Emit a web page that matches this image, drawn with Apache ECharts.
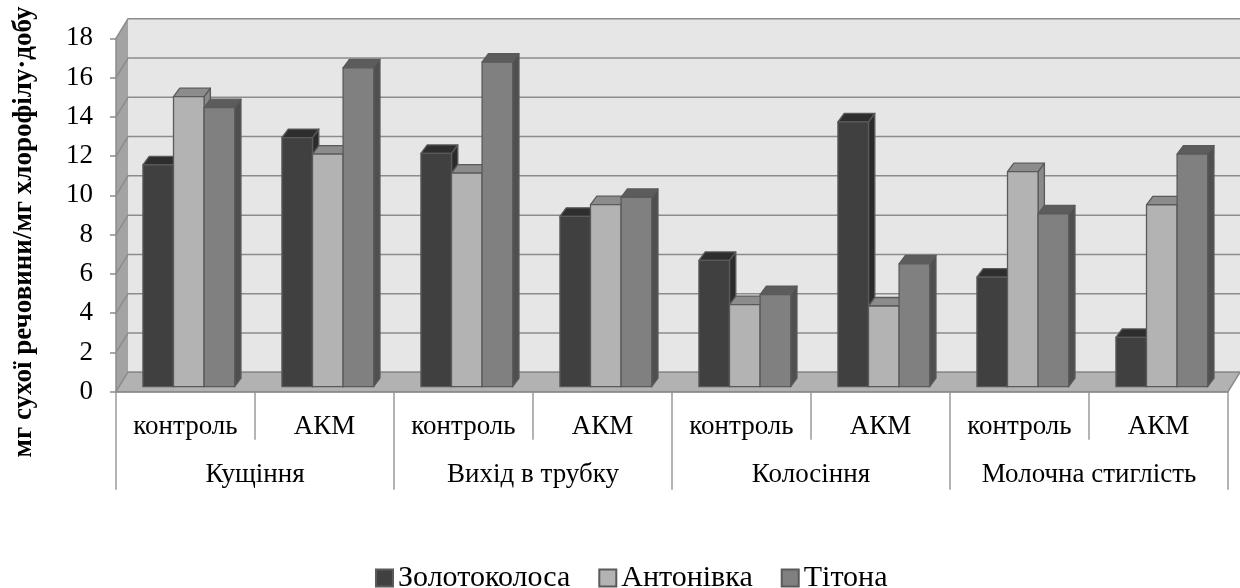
<!DOCTYPE html>
<html>
<head>
<meta charset="utf-8">
<script src="https://cdn.jsdelivr.net/npm/echarts@6/dist/echarts.min.js"></script>
<style>
  html, body { margin: 0; padding: 0; background: #ffffff; }
  #chart { width: 1240px; height: 588px; }
</style>
</head>
<body>
<div id="chart"></div>
<script>
// Treatments (inner level) and growth stages (outer level) of the category axis
const treatments = ['контроль', 'АКМ', 'контроль', 'АКМ', 'контроль', 'АКМ', 'контроль', 'АКМ'];
const stages = ['Кущіння', 'Вихід в трубку', 'Колосіння', 'Молочна стиглість'];

// Varieties and their values, mg dry matter / mg chlorophyll per day
const seriesNames = ['Золотоколоса', 'Антонівка', 'Тітона'];
const zolotokolosa = [11.30, 12.69, 11.88, 8.68, 6.43, 13.49, 5.58, 2.51];
const antonivka = [14.77, 11.85, 10.88, 9.27, 4.18, 4.11, 10.95, 9.26];
const titona = [14.21, 16.24, 16.53, 9.64, 4.69, 6.26, 8.80, 11.85];

// Value axis ticks
const yTicks = [0, 2, 4, 6, 8, 10, 12, 14, 16, 18];

const yTitle = 'мг сухої речовини/мг хлорофілу·добу';
const FONT = '"Liberation Serif", "Times New Roman", serif';

// Oblique "3D" projection: wall depth, bar plane offset and bar depth
const WALL_DX = 12, WALL_DY = -19.5;
const PLANE_DX = 3.3, PLANE_DY = -5.0;
const BAR_DX = 6.3, BAR_DY = -8.5;
const BAR_FRAC = 0.22;

// Face colours per variety: front, top, side
const palette = [
  { front: '#404040', top: '#2e2e2e', side: '#2b2b2b' },
  { front: '#b3b3b3', top: '#8c8c8c', side: '#8a8a8a' },
  { front: '#808080', top: '#5c5c5c', side: '#4f4f4f' }
];
const EDGE = '#5a5a5a';

// Back wall, side wall and floor of the plot box
function renderWalls(params, api) {
  const cs = params.coordSys;
  const x0 = cs.x, x1 = cs.x + cs.width;
  const yTop = api.coord([0, yTicks[yTicks.length - 1]])[1];
  const yBase = api.coord([0, 0])[1];
  const children = [];
  // back wall
  children.push({
    type: 'rect',
    shape: { x: x0 + WALL_DX, y: yTop + WALL_DY, width: x1 - x0, height: yBase - yTop },
    style: { fill: '#e6e6e6', stroke: null }
  });
  // side wall
  children.push({
    type: 'polygon',
    shape: { points: [[x0, yTop], [x0 + WALL_DX, yTop + WALL_DY], [x0 + WALL_DX, yBase + WALL_DY], [x0, yBase]] },
    style: { fill: '#a3a3a3', stroke: null }
  });
  // gridlines on both walls
  yTicks.forEach(function (t) {
    const y = api.coord([0, t])[1];
    children.push({
      type: 'polyline',
      shape: { points: [[x0, y], [x0 + WALL_DX, y + WALL_DY], [x1 + WALL_DX, y + WALL_DY]] },
      style: { stroke: '#8c8c8c', lineWidth: 1.5, fill: null }
    });
  });
  // floor
  children.push({
    type: 'polygon',
    shape: { points: [[x0, yBase], [x1, yBase], [x1 + WALL_DX, yBase + WALL_DY], [x0 + WALL_DX, yBase + WALL_DY]] },
    style: { fill: '#b2b2b2', stroke: '#8c8c8c', lineWidth: 1.5 }
  });
  return { type: 'group', children: children };
}

// One prism per data point: side, top and front faces
function makeBarRenderer(slot) {
  const c = palette[slot];
  return function (params, api) {
    const cat = api.value(0), val = api.value(1);
    const p0 = api.coord([cat, 0]);
    const p1 = api.coord([cat, val]);
    const bw = api.size([1, 0])[0] * BAR_FRAC;
    const xl = p0[0] + PLANE_DX + (slot - 1.5) * bw;
    const xr = xl + bw;
    const yb = p0[1] + PLANE_DY;
    const yt = p1[1] + PLANE_DY;
    const stroke = { stroke: EDGE, lineWidth: 1.3, lineJoin: 'round' };
    return {
      type: 'group',
      children: [
        {
          type: 'polygon',
          shape: { points: [[xr, yt], [xr + BAR_DX, yt + BAR_DY], [xr + BAR_DX, yb + BAR_DY], [xr, yb]] },
          style: Object.assign({ fill: c.side }, stroke)
        },
        {
          type: 'polygon',
          shape: { points: [[xl, yt], [xr, yt], [xr + BAR_DX, yt + BAR_DY], [xl + BAR_DX, yt + BAR_DY]] },
          style: Object.assign({ fill: c.top }, stroke)
        },
        {
          type: 'rect',
          shape: { x: xl, y: yt, width: bw, height: yb - yt },
          style: Object.assign({ fill: c.front }, stroke)
        }
      ]
    };
  };
}

const valueSets = [zolotokolosa, antonivka, titona];

const barSeries = valueSets.map(function (vals, i) {
  return {
    name: seriesNames[i],
    type: 'custom',
    xAxisIndex: 0,
    yAxisIndex: 0,
    z: 3,
    renderItem: makeBarRenderer(i),
    itemStyle: { color: palette[i].front, borderColor: EDGE, borderWidth: 1 },
    encode: { x: 0, y: 1 },
    data: vals.map(function (v, k) { return [k, v]; })
  };
});

const chart = echarts.init(document.getElementById('chart'), null, { renderer: 'canvas' });

chart.setOption({
  backgroundColor: '#ffffff',
  animation: false,
  textStyle: { fontFamily: FONT, color: '#000' },
  grid: { left: 116, right: 12, top: 38.3, bottom: 196.3, containLabel: false },
  legend: {
    data: seriesNames,
    icon: 'rect',
    left: 370,
    top: 558,
    itemWidth: 17,
    itemHeight: 17,
    itemGap: 28,
    textStyle: { fontFamily: FONT, fontSize: 30, color: '#000' }
  },
  xAxis: [
    {
      type: 'category',
      data: treatments,
      position: 'bottom',
      boundaryGap: true,
      axisLine: { show: true, lineStyle: { color: '#8c8c8c', width: 1.5 } },
      axisTick: { show: true, interval: 0, length: 48, lineStyle: { color: '#9a9a9a', width: 1.5 } },
      axisLabel: { interval: 0, margin: 22, fontSize: 27, fontFamily: FONT, color: '#000' },
      splitLine: { show: false }
    },
    {
      type: 'category',
      data: stages,
      position: 'bottom',
      boundaryGap: true,
      axisLine: { show: false },
      axisTick: { show: true, interval: 0, length: 98, lineStyle: { color: '#9a9a9a', width: 1.5 } },
      axisLabel: { interval: 0, margin: 70, fontSize: 27, fontFamily: FONT, color: '#000' },
      splitLine: { show: false }
    }
  ],
  yAxis: {
    type: 'value',
    min: 0,
    max: 18,
    interval: 2,
    z: 5,
    axisLine: { show: true, lineStyle: { color: '#8c8c8c', width: 1.5 } },
    axisTick: { show: true, length: 6, lineStyle: { color: '#8c8c8c', width: 1.5 } },
    axisLabel: { margin: 23, fontSize: 27, fontFamily: FONT, color: '#000' },
    splitLine: { show: false }
  },
  graphic: [
    {
      type: 'text',
      x: 24,
      y: 232,
      rotation: Math.PI / 2,
      style: {
        text: yTitle,
        font: 'bold 27px ' + FONT,
        fill: '#000',
        align: 'center',
        verticalAlign: 'middle'
      }
    }
  ],
  series: [
    {
      name: 'walls',
      type: 'custom',
      z: 1,
      silent: true,
      renderItem: renderWalls,
      encode: { x: 0, y: 1 },
      data: [[0, 0]]
    }
  ].concat(barSeries)
});
</script>
</body>
</html>
